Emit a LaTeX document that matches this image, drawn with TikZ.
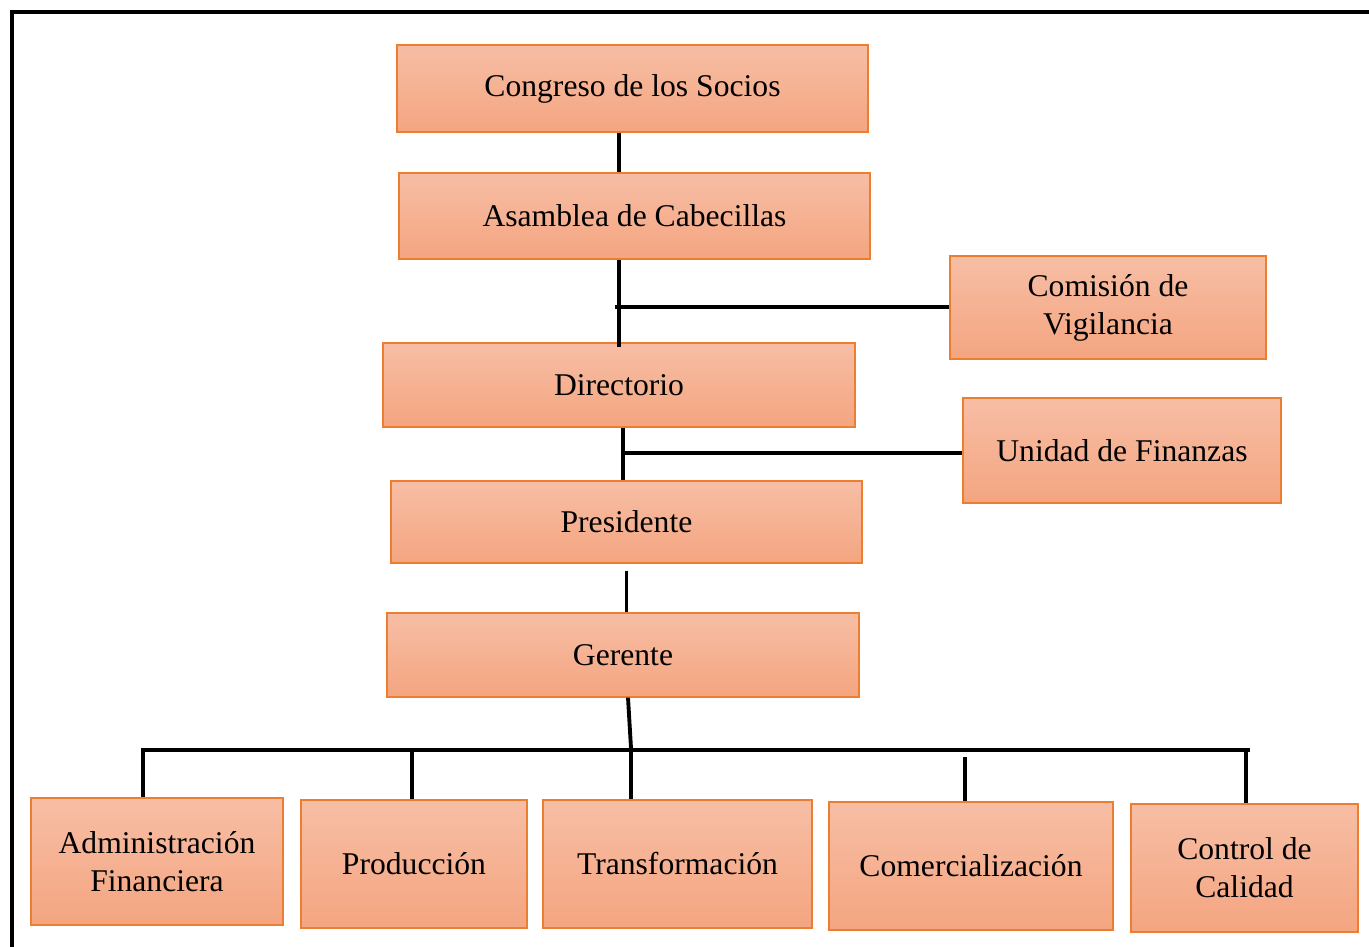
\documentclass[tikz,border=0pt]{standalone}
\usepackage{fontspec}
\setmainfont{Liberation Serif}
\usepackage{tikz}

\definecolor{boxedge}{HTML}{ED7D31}
\definecolor{boxtop}{HTML}{F7BEA5}
\definecolor{boxbot}{HTML}{F4A580}

\begin{document}
\begin{tikzpicture}[
    unitbox/.style={draw=boxedge, line width=0.7pt, top color=boxtop, bottom color=boxbot,
        align=center, inner sep=2pt, font=\fontsize{18}{21.6}\selectfont},
    link/.style={line width=2.2pt}
  ]
    \useasboundingbox (0,0) rectangle (27.38,-18.94);

    % Frame
    \draw[line width=2.4pt] (27.38,-0.24) -- (0.24,-0.24) -- (0.24,-18.94);

    % Main line
    \node[unitbox, minimum width=9.42cm, minimum height=1.74cm] (congreso) at (12.65,-1.77) {Congreso de los Socios};
    \node[unitbox, minimum width=9.42cm, minimum height=1.72cm] (asamblea) at (12.69,-4.32) {Asamblea de Cabecillas};
    \node[unitbox, minimum width=9.44cm, minimum height=1.68cm] (directorio) at (12.38,-7.70) {Directorio};
    \node[unitbox, minimum width=9.42cm, minimum height=1.64cm] (presidente) at (12.53,-10.44) {Presidente};
    \node[unitbox, minimum width=9.44cm, minimum height=1.68cm] (gerente) at (12.46,-13.10) {Gerente};

    % Staff units
    \node[unitbox, minimum width=6.32cm, minimum height=2.06cm] (comision) at (22.16,-6.15) {Comisión de\\Vigilancia};
    \node[unitbox, minimum width=6.36cm, minimum height=2.10cm] (unidad) at (22.44,-9.01) {Unidad de Finanzas};

    % Departments
    \node[unitbox, minimum width=5.04cm, minimum height=2.54cm] (admin) at (3.14,-17.23) {Administración\\Financiera};
    \node[unitbox, minimum width=4.52cm, minimum height=2.56cm] (produccion) at (8.28,-17.28) {Producción};
    \node[unitbox, minimum width=5.38cm, minimum height=2.56cm] (transformacion) at (13.55,-17.28) {Transformación};
    \node[unitbox, minimum width=5.68cm, minimum height=2.56cm] (comercializacion) at (19.42,-17.32) {Comercialización};
    \node[unitbox, minimum width=4.54cm, minimum height=2.56cm] (control) at (24.89,-17.36) {Control de\\Calidad};

    % Junctions
    \coordinate (jcomision) at (12.38,-6.14);
    \coordinate (junidad) at (12.46,-9.06);
    \coordinate (jgerente) at (12.62,-14.96);
    \coordinate (busleft) at (2.82,-15.0);
    \coordinate (busright) at (25.0,-15.0);

    % Connectors
    \draw[link] (congreso.south -| jcomision) -- (asamblea.north -| jcomision);
    \draw[link] (asamblea.south -| jcomision) -- ([yshift=-0.1cm]directorio.north -| jcomision);
    \draw[link] ([xshift=-0.08cm]jcomision) -- (comision.west |- jcomision);
    \draw[link] (directorio.south -| junidad) -- (presidente.north -| junidad);
    \draw[link] (junidad) -- (unidad.west |- junidad);
    \draw[link] ([yshift=-0.14cm]presidente.south) -- (presidente.south |- gerente.north);
    \draw[link] ([xshift=0.1cm]gerente.south) -- (jgerente);
    \draw[link] (busleft) -- (busright);
    \foreach \n/\x/\y in {admin/2.86/14.98, produccion/8.24/15.0, transformacion/12.62/15.0,
                          comercializacion/19.30/15.14, control/24.92/15.0} {
        \draw[link] (\x,-\y) -- (\x,-\y |- \n.north);
    }

\end{tikzpicture}
\end{document}
